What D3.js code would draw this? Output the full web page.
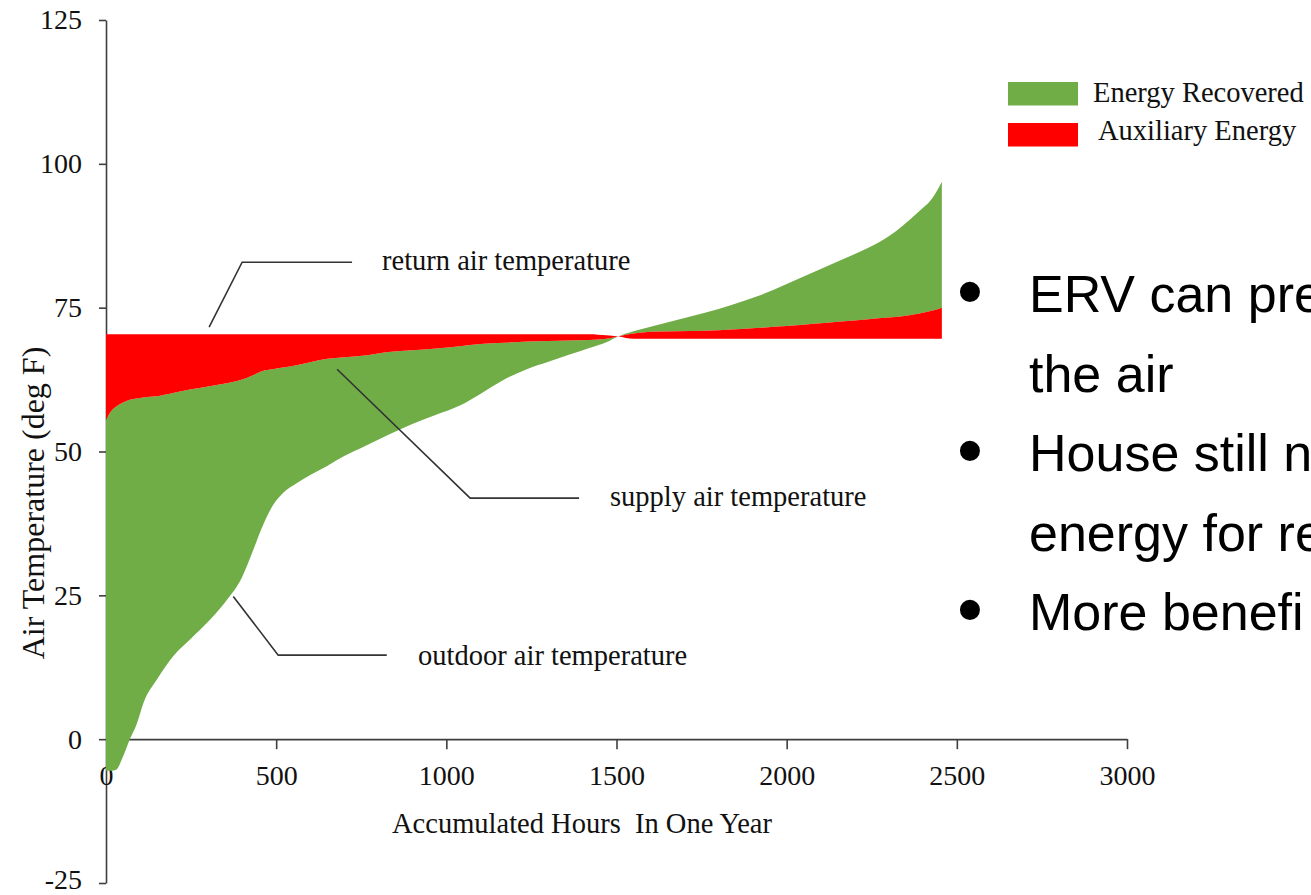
<!DOCTYPE html>
<html>
<head>
<meta charset="utf-8">
<script src="https://cdn.jsdelivr.net/npm/d3@7"></script>
<style>
  html, body { margin: 0; padding: 0; background: #fff; overflow: hidden; }
  svg { display: block; }
</style>
</head>
<body>
<svg id="chart" width="1311" height="895"></svg>
<script>
// ---------------- data ----------------
const hours = [0, 15, 30, 50, 70, 90, 110, 150, 200, 250, 300, 350, 400, 430, 460, 490, 520, 560, 600, 650, 700, 760, 830, 900, 970, 1040, 1100, 1170, 1240, 1300, 1360, 1420, 1470, 1505, 1550, 1600, 1680, 1760, 1840, 1920, 2000, 2080, 2160, 2240, 2300, 2340, 2390, 2430, 2456];

const outdoorTemp = [-5.5, -5.5, -5.3, -3, 0, 2.6, 6.3, 10.4, 14.6, 17.5, 20.4, 23.8, 28.2, 32.5, 37, 40.6, 42.8, 44.5, 45.9, 47.5, 49.2, 50.9, 52.9, 54.8, 56.4, 58, 60, 62.5, 64.4, 65.6, 66.8, 68, 69, 70, 70.9, 71.7, 72.9, 74.1, 75.5, 77.1, 79.1, 81.2, 83.3, 85.4, 87.4, 89.2, 91.8, 94.2, 96.9];

const supplyTemp = [55.5, 57, 57.8, 58.5, 59, 59.2, 59.4, 59.6, 60.2, 60.8, 61.3, 61.8, 62.5, 63.2, 64, 64.3, 64.6, 65, 65.5, 66.1, 66.4, 66.7, 67.3, 67.6, 67.9, 68.3, 68.7, 68.9, 69.1, 69.2, 69.3, 69.4, 69.6, 70, 70.5, 70.8, 70.9, 71.0, 71.2, 71.5, 71.8, 72.2, 72.6, 73.0, 73.3, 73.5, 74.0, 74.5, 75];

const returnTemp = [70.4, 70.4, 70.4, 70.4, 70.4, 70.4, 70.4, 70.4, 70.4, 70.4, 70.4, 70.4, 70.4, 70.4, 70.4, 70.4, 70.4, 70.4, 70.4, 70.4, 70.4, 70.4, 70.4, 70.4, 70.4, 70.4, 70.4, 70.4, 70.4, 70.4, 70.4, 70.4, 70.2, 70, 69.6, 69.6, 69.6, 69.6, 69.6, 69.6, 69.6, 69.6, 69.6, 69.6, 69.6, 69.6, 69.6, 69.6, 69.6];

const xTicks = [0, 500, 1000, 1500, 2000, 2500, 3000];
const yTicks = [-25, 0, 25, 50, 75, 100, 125];

const legendLabels = ["Energy Recovered", "Auxiliary Energy"];

const annotationLabels = ["return air temperature", "supply air temperature", "outdoor air temperature"];
// leader lines in data units: [hours, deg F]
const annotationLeaders = [
  [[303, 71.6], [400, 82.9], [723, 82.9]],
  [[679, 64.3], [1070, 41.9], [1390, 41.9]],
  [[374, 24.8], [506, 14.6], [825, 14.6]]
];
const annotationAnchors = [[811, 81.6], [1481, 40.6], [917, 12.9]];

const bulletLines = ["ERV can pre", "the air", "House still n", "energy for re", "More benefi"];
const bulletFlags = [true, false, true, false, true];

// ---------------- drawing ----------------
const GREEN = "#70AD47", RED = "#FF0000", AXIS = "#3f3f3f";
const SERIF = "'Liberation Serif', 'Times New Roman', serif";
const SANS = "'Liberation Sans', Arial, sans-serif";

const svg = d3.select("#chart");
const x = d3.scaleLinear().domain([0, 3000]).range([106, 1127]);
const y = d3.scaleLinear().domain([-25, 125]).range([883, 20]);

const rows = hours.map((h, i) => ({ h, o: outdoorTemp[i], s: supplyTemp[i], r: returnTemp[i] }));

// axes
const plain = d => String(d);
const yAxis = d3.axisLeft(y).tickValues(yTicks).tickSize(7).tickSizeOuter(0).tickPadding(17).tickFormat(plain);
const xAxis = d3.axisBottom(x).tickValues(xTicks).tickSize(10).tickSizeOuter(0).tickPadding(16).tickFormat(plain);

const gy = svg.append("g").attr("transform", `translate(${x(0)},0)`).call(yAxis);
const gx = svg.append("g").attr("transform", `translate(0,${y(0)})`).call(xAxis);
[gx, gy].forEach(g => {
  g.select(".domain").attr("stroke", AXIS).attr("stroke-width", 1.6);
  g.selectAll(".tick line").attr("stroke", AXIS).attr("stroke-width", 1.6);
  g.selectAll(".tick text").attr("fill", "#111").style("font-family", SERIF).style("font-size", "28px");
});
gx.selectAll(".tick").filter(d => d === 0).select("line").remove();
gy.selectAll(".tick").filter(d => d === -25).select("text").attr("dy", "0.2em");

// areas
const curve = d3.curveMonotoneX;
const greenArea = d3.area().curve(curve).x(d => x(d.h)).y0(d => y(d.o)).y1(d => y(d.s));
const redArea = d3.area().curve(curve).x(d => x(d.h)).y0(d => y(d.s)).y1(d => y(d.r));

svg.append("path").datum(rows).attr("d", greenArea).attr("fill", GREEN);
svg.append("path").datum(rows).attr("d", redArea).attr("fill", RED);

// axis titles
svg.append("text")
  .attr("x", 582).attr("y", 833)
  .attr("text-anchor", "middle")
  .style("white-space", "pre")
  .attr("xml:space", "preserve")
  .style("font-family", SERIF).style("font-size", "28.5px").attr("fill", "#111")
  .text("Accumulated Hours  In One Year");

svg.append("text")
  .attr("transform", `translate(44,503) rotate(-90)`)
  .attr("text-anchor", "middle")
  .style("font-family", SERIF).style("font-size", "32px").attr("fill", "#111")
  .text("Air Temperature (deg F)");

// annotations
const line = d3.line().x(d => x(d[0])).y(d => y(d[1]));
annotationLeaders.forEach((pts, i) => {
  svg.append("path").attr("d", line(pts)).attr("fill", "none")
    .attr("stroke", "#333").attr("stroke-width", 1.6);
  svg.append("text")
    .attr("x", x(annotationAnchors[i][0])).attr("y", y(annotationAnchors[i][1]))
    .style("font-family", SERIF).style("font-size", "28.5px").attr("fill", "#111")
    .text(annotationLabels[i]);
});

// legend
const legendColors = [GREEN, RED];
const lg = svg.append("g");
legendLabels.forEach((lab, i) => {
  lg.append("rect").attr("x", 1008).attr("y", 82 + i * 41).attr("width", 70).attr("height", 23.5)
    .attr("fill", legendColors[i]);
  lg.append("text").attr("x", i === 0 ? 1093 : 1098).attr("y", 101.5 + i * 38.5)
    .style("font-family", SERIF).style("font-size", "28.5px").attr("fill", "#111")
    .text(lab);
});

// bullet text
bulletLines.forEach((t, i) => {
  const base = 312 + i * 79.5;
  if (bulletFlags[i]) {
    svg.append("text").attr("x", 957).attr("y", base + 5)
      .style("font-family", SANS).style("font-size", "74px").attr("fill", "#000")
      .text("\u2022");
  }
  svg.append("text").attr("x", 1029).attr("y", base)
    .style("font-family", SANS).style("font-size", "52px").attr("fill", "#000")
    .text(t);
});
</script>
</body>
</html>
